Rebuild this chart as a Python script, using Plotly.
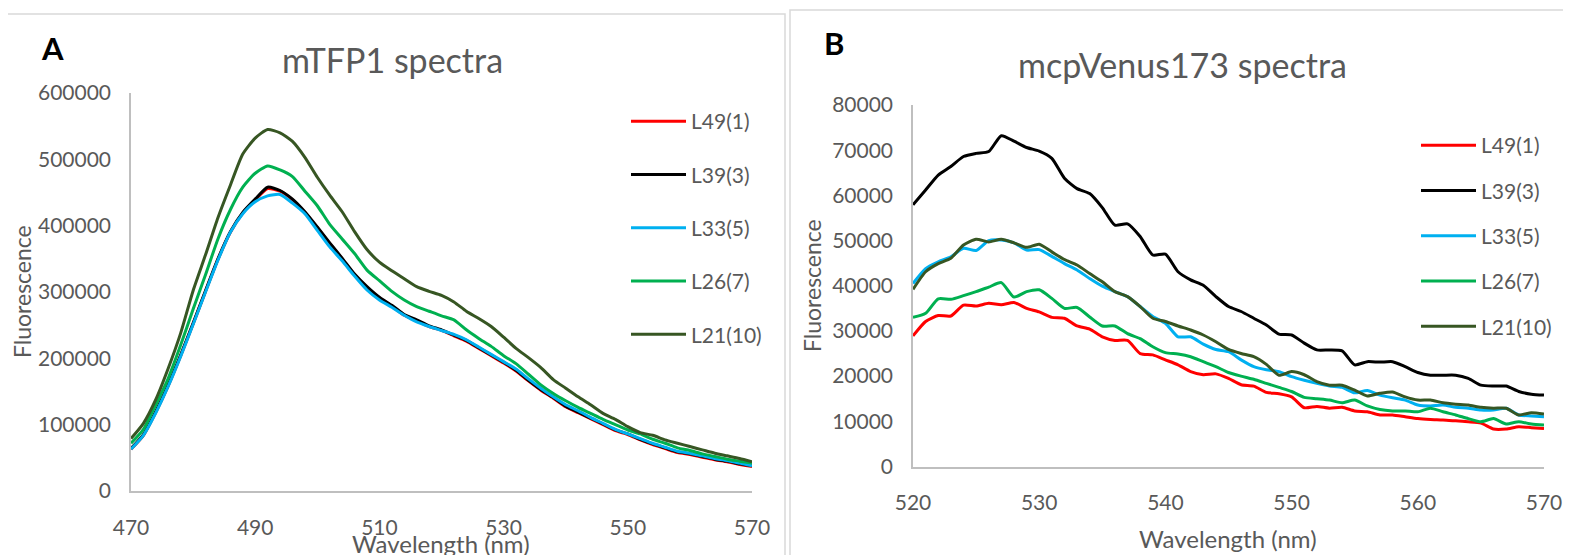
import plotly.graph_objects as go

# ---------------- Data ----------------
series_names = ["L49(1)", "L39(3)", "L33(5)", "L26(7)", "L21(10)"]
series_colors = ["#FF0000", "#000000", "#00B0F0", "#00B050", "#375623"]

# Panel A: mTFP1 spectra (470-570 nm, 2 nm steps)
wl_a = list(range(470, 571, 2))
a_L49 = [63000, 84000, 119000, 159000, 204000, 252000, 301000, 349000, 390000, 419000, 439000, 456000, 452000,
         439000, 420000, 397000, 373000, 350000, 326000, 307000, 291000, 279000, 265000, 257000, 248000, 242000,
         234000, 226000, 215000, 204000, 193000, 181000, 166000, 152000, 140000, 127000, 118000, 109000, 100000,
         91000, 85000, 77000, 70000, 64000, 58000, 55000, 51000, 47000, 44000, 40000, 37000]
a_L39 = [64000, 85000, 120000, 160000, 205000, 253000, 302000, 350000, 391000, 420000, 440000, 458000, 453000,
         440000, 421000, 398000, 374000, 351000, 327000, 308000, 292000, 280000, 266000, 258000, 249000, 243000,
         235000, 227000, 216000, 205000, 194000, 182000, 167000, 153000, 141000, 128000, 119000, 110000, 101000,
         92000, 86000, 78000, 71000, 65000, 59000, 56000, 52000, 48000, 45000, 41000, 38000]
a_L33 = [63000, 84000, 118000, 158000, 203000, 251000, 300000, 348000, 390000, 418000, 436000, 445000, 447000,
         434000, 418000, 393000, 368000, 347000, 324000, 303000, 288000, 277000, 265000, 255000, 248000, 242000,
         236000, 228000, 217000, 206000, 195000, 184000, 169000, 155000, 142000, 130000, 121000, 111000, 102000,
         93000, 86000, 79000, 72000, 66000, 60000, 57000, 53000, 49000, 46000, 42000, 38000]
a_L26 = [72000, 93000, 130000, 170000, 220000, 274000, 326000, 380000, 424000, 458000, 479000, 490000, 484000,
         474000, 452000, 430000, 402000, 380000, 358000, 333000, 317000, 301000, 288000, 278000, 271000, 264000,
         258000, 243000, 230000, 218000, 204000, 192000, 176000, 160000, 147000, 136000, 126000, 117000, 108000,
         100000, 92000, 86000, 78000, 72000, 65000, 61000, 56000, 52000, 48000, 45000, 42000]
a_L21 = [79000, 102000, 138000, 185000, 238000, 302000, 356000, 412000, 461000, 508000, 532000, 545000, 540000,
         527000, 503000, 473000, 446000, 421000, 391000, 364000, 345000, 332000, 320000, 308000, 301000, 295000,
         285000, 271000, 260000, 248000, 232000, 215000, 201000, 186000, 168000, 155000, 142000, 130000, 117000,
         108000, 97000, 88000, 84000, 77000, 72000, 67000, 62000, 57000, 53000, 49000, 44000]

# Panel B: mcpVenus173 spectra (520-570 nm, 1 nm steps)
wl_b = list(range(520, 571))
b_L49 = [28900, 32100, 33400, 33300, 35700, 35500, 36100, 35800, 36300, 35000,
         34200, 33000, 32800, 31100, 30400, 28700, 27900, 27900, 25000, 24700,
         23600, 22500, 21000, 20300, 20500, 19500, 18100, 17800, 16400, 16100,
         15400, 13000, 13300, 12900, 13100, 12300, 12100, 11400, 11400, 11000,
         10600, 10400, 10300, 10100, 9900, 9600, 8300, 8300, 8800, 8600, 8400]
b_L39 = [57900, 61200, 64500, 66400, 68600, 69300, 69700, 73200, 72000, 70600,
         69800, 68200, 63800, 61500, 60400, 57300, 53400, 53700, 50900, 46800,
         47000, 43100, 41300, 40100, 37600, 35400, 34300, 32800, 31300, 29300,
         29100, 27300, 25800, 25800, 25600, 22500, 23200, 23100, 23200, 22100,
         20800, 20200, 20200, 20200, 19500, 18000, 17800, 17800, 16600, 16000, 15800]
b_L33 = [40500, 43800, 45300, 46400, 48300, 47800, 50000, 50100, 49500, 47900,
         48000, 46500, 44900, 43500, 41600, 39900, 38700, 37600, 35400, 33200,
         31700, 28700, 28700, 27100, 25900, 25400, 23600, 22100, 21400, 21000,
         19900, 19100, 18400, 17800, 17500, 16300, 16800, 15800, 15200, 14700,
         13600, 13400, 13600, 13100, 12900, 12500, 12500, 12900, 11400, 11200, 11000]
b_L26 = [33000, 33900, 37100, 37000, 37800, 38700, 39700, 40700, 37500, 38700,
         39100, 37200, 35000, 35200, 33100, 31100, 31100, 29400, 28300, 26500,
         25200, 24900, 24300, 23200, 22100, 20800, 20000, 19300, 18400, 17500,
         16600, 15300, 15000, 14700, 14100, 14700, 13400, 12600, 12300, 12300,
         12100, 12900, 12100, 11400, 10600, 9900, 10600, 9400, 9900, 9400, 9200]
b_L21 = [39200, 43100, 44900, 46100, 49000, 50300, 49700, 50300, 49500, 48500,
         49200, 47500, 45800, 44600, 42700, 40900, 38700, 37600, 35400, 32800,
         32100, 31100, 30200, 29100, 27600, 25900, 25000, 24300, 22600, 20200,
         21000, 20300, 18800, 18000, 18000, 16900, 15600, 16200, 16500, 15400,
         14700, 14700, 14100, 13800, 13600, 13100, 12900, 12900, 11400, 11900, 11600]

panel_a = [a_L49, a_L39, a_L33, a_L26, a_L21]
panel_b = [b_L49, b_L39, b_L33, b_L26, b_L21]

titles = ["mTFP1 spectra", "mcpVenus173 spectra"]
panel_labels = ["A", "B"]
x_title = "Wavelength (nm)"
y_title = "Fluorescence"

# ---------------- Figure ----------------
# The page body has an 8px margin, so the figure is drawn 8px smaller and
# every position below (given in window pixels) is shifted by that offset.
OFF = 8
W, H = 1571 - OFF, 555 - OFF
FONT = "Lato, Open Sans, sans-serif"
TXT = "#595959"
AXC = "#BFBFBF"


def px(x):
    return (x - OFF) / W


def py(y):
    return 1 - (y - OFF) / H


fig = go.Figure()
for name, col, ys in zip(series_names, series_colors, panel_a):
    fig.add_trace(go.Scatter(x=wl_a, y=ys, name=name, mode="lines",
                             line=dict(color=col, width=3, shape="spline", smoothing=0.6),
                             xaxis="x", yaxis="y", legend="legend", legendgroup="a" + name))
for name, col, ys in zip(series_names, series_colors, panel_b):
    fig.add_trace(go.Scatter(x=wl_b, y=ys, name=name, mode="lines",
                             line=dict(color=col, width=3, shape="spline", smoothing=0.6),
                             xaxis="x2", yaxis="y2", legend="legend2", legendgroup="b" + name))

tickfont = dict(family=FONT, size=21, color=TXT)
common_x = dict(showgrid=False, zeroline=False, showline=True, linecolor=AXC, linewidth=1.5,
                ticks="", tickfont=tickfont, ticklabelstandoff=17, automargin=False)
common_y = dict(showgrid=False, zeroline=False, showline=True, linecolor=AXC, linewidth=1.5,
                ticks="", tickfont=tickfont, ticklabelstandoff=14, tickformat="d",
                automargin=False)

fig.update_layout(
    width=W, height=H,
    margin=dict(l=0, r=0, t=0, b=0, pad=0, autoexpand=False),
    paper_bgcolor="white", plot_bgcolor="white",
    font=dict(family=FONT, color=TXT),
    xaxis=dict(domain=[px(131), px(752)], range=[470, 570], tick0=470, dtick=20,
               anchor="y", **common_x),
    yaxis=dict(domain=[py(491), py(93)], range=[0, 600000], dtick=100000,
               anchor="x", **common_y),
    xaxis2=dict(domain=[px(913), px(1544)], range=[520, 570], tick0=520, dtick=10,
                anchor="y2", **common_x),
    yaxis2=dict(domain=[py(466.5), py(105)], range=[0, 80000], dtick=10000,
                anchor="x2", **common_y),
    legend=dict(x=px(626), y=py(101), xanchor="left", yanchor="top", itemwidth=55,
                font=dict(family=FONT, size=21, color=TXT), tracegroupgap=23,
                bgcolor="rgba(0,0,0,0)"),
    legend2=dict(x=px(1416), y=py(125), xanchor="left", yanchor="top", itemwidth=55,
                 font=dict(family=FONT, size=21, color=TXT), tracegroupgap=15,
                 bgcolor="rgba(0,0,0,0)"),
    showlegend=True,
)

# panel borders
fig.add_shape(type="rect", xref="paper", yref="paper", x0=px(1), x1=px(785), y0=py(570), y1=py(14),
              line=dict(color="#D9D9D9", width=1.5), layer="below")
fig.add_shape(type="rect", xref="paper", yref="paper", x0=px(790), x1=px(1585), y0=py(570), y1=py(10),
              line=dict(color="#D9D9D9", width=1.5), layer="below")


def label(text, x, y, size, color=TXT, angle=0):
    return dict(text=text, x=px(x), y=py(y), xref="paper", yref="paper", showarrow=False,
                xanchor="center", yanchor="middle", textangle=angle,
                font=dict(family=FONT, size=size, color=color))


ann = [
    label(titles[0], 392, 60, 34),
    label(titles[1], 1182, 64, 34),
    label("<b>" + panel_labels[0] + "</b>", 52, 48, 31, "#000000"),
    label("<b>" + panel_labels[1] + "</b>", 834, 43, 31, "#000000"),
    label(y_title, 22, 292, 23, angle=-90),
    label(y_title, 812, 285, 23, angle=-90),
    label(x_title, 441, 543, 24),
    label(x_title, 1228, 538, 24),
]
fig.update_layout(annotations=ann)

fig.write_html("out.html")
